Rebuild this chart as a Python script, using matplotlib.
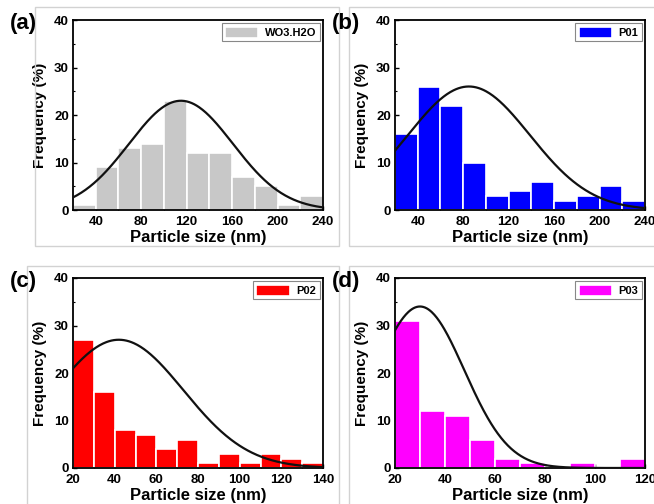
import matplotlib
matplotlib.use("Agg")
import matplotlib.pyplot as plt
import numpy as np
from matplotlib.patches import Rectangle
from matplotlib.ticker import MultipleLocator

plt.rcParams["font.family"] = ["Liberation Sans", "DejaVu Sans"]
plt.rcParams["font.weight"] = "bold"

# histogram data (bin left edges, frequency %)
edges_a = [20, 40, 60, 80, 100, 120, 140, 160, 180, 200, 220]
freq_a = [1, 9, 13, 14, 23, 12, 12, 7, 5, 1, 3]
edges_b = [20, 40, 60, 80, 100, 120, 140, 160, 180, 200, 220]
freq_b = [16, 26, 22, 10, 3, 4, 6, 2, 3, 5, 2]
edges_c = [20, 30, 40, 50, 60, 70, 80, 90, 100, 110, 120, 130]
freq_c = [27, 16, 8, 7, 4, 6, 1, 3, 1, 3, 2, 1]
edges_d = [20, 30, 40, 50, 60, 70, 80, 90, 100, 110]
freq_d = [31, 12, 11, 6, 2, 1, 0, 1, 0, 2]

# gaussian fit parameters: (amplitude, centre, sigma)
fit_a = (23, 115, 45.7)
fit_b = (26, 85, 53.7)
fit_c = (27, 42, 31)
fit_d = (34, 30, 17.7)

panels = [
    ("(a)", "WO3.H2O", "#c8c8c8", edges_a, freq_a, 20, fit_a, (20, 240), [40, 80, 120, 160, 200, 240]),
    ("(b)", "P01", "#0000ff", edges_b, freq_b, 20, fit_b, (20, 240), [40, 80, 120, 160, 200, 240]),
    ("(c)", "P02", "#ff0000", edges_c, freq_c, 10, fit_c, (20, 140), [20, 40, 60, 80, 100, 120, 140]),
    ("(d)", "P03", "#ff00ff", edges_d, freq_d, 10, fit_d, (20, 120), [20, 40, 60, 80, 100, 120]),
]

W, H = 654, 504
fig = plt.figure(figsize=(W / 100, H / 100), dpi=100)

# light grey panel frames (pixels: x0, y0, x1, y1 from top-left)
frames = [(35, 7, 339, 246), (349, 7, 660, 246), (27, 266, 339, 510), (349, 266, 660, 510)]
for x0, y0, x1, y1 in frames:
    fig.add_artist(Rectangle((x0 / W, 1 - y1 / H), (x1 - x0) / W, (y1 - y0) / H,
                             transform=fig.transFigure, fill=False,
                             edgecolor="#d2d2d2", linewidth=1.0))

axes_px = [(73, 20), (395, 20), (73, 278), (395, 278)]
for (tag, name, color, edges, freq, bw, fit, xlim, xticks), (px, py) in zip(panels, axes_px):
    ax = fig.add_axes([px / W, 1 - (py + 190) / H, 250 / W, 190 / H])
    ax.bar(edges, freq, width=bw, align="edge", color=color,
           edgecolor="white", linewidth=1.2, label=name, zorder=2)
    amp, mu, sig = fit
    xs = np.linspace(xlim[0], xlim[1], 300)
    ax.plot(xs, amp * np.exp(-(xs - mu) ** 2 / (2 * sig ** 2)),
            color="#111111", linewidth=1.6, zorder=3)
    ax.set_xlim(*xlim)
    ax.set_ylim(0, 40)
    ax.set_xticks(xticks)
    ax.yaxis.set_major_locator(MultipleLocator(10))
    ax.yaxis.set_minor_locator(MultipleLocator(5))
    ax.xaxis.set_minor_locator(MultipleLocator(10 if bw == 10 else 20))
    ax.tick_params(direction="in", length=3, width=1, labelsize=9.5, pad=3)
    ax.tick_params(axis="x", pad=4)
    ax.tick_params(which="minor", direction="in", length=1.5, width=0.8)
    for lab in ax.get_xticklabels() + ax.get_yticklabels():
        lab.set_fontweight("bold")
    for sp in ax.spines.values():
        sp.set_linewidth(1.3)
    ax.set_xlabel("Particle size (nm)", fontsize=12, fontweight="bold", labelpad=2)
    ax.set_ylabel("Frequency (%)", fontsize=11, fontweight="bold")
    ax.yaxis.set_label_coords(-0.105, 0.5)
    leg = ax.legend(loc="upper right", prop={"weight": "bold", "size": 8},
                    fancybox=False, edgecolor="#888888", framealpha=1,
                    handlelength=3.0, handleheight=1.2, borderpad=0.3,
                    handletextpad=0.6, borderaxespad=0.3)
    leg.get_frame().set_linewidth(0.8)
    fig.text((px - 63) / W, 1 - (py + 3) / H, tag, fontsize=16, fontweight="bold",
             ha="left", va="center")

fig.savefig("out.png", dpi=100)
